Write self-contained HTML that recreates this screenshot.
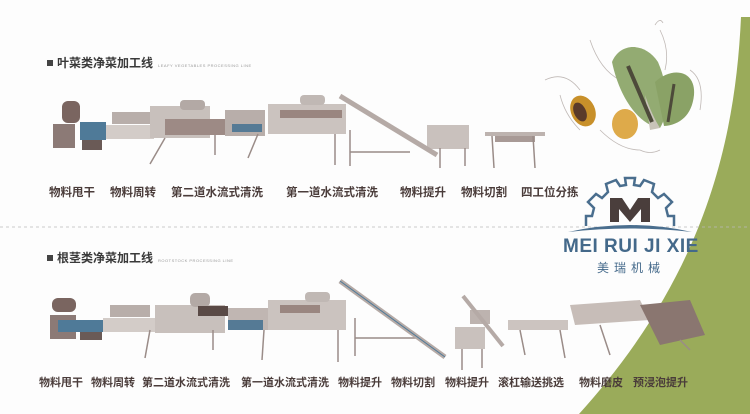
<!DOCTYPE html>
<html><head><meta charset="utf-8"><style>
*{margin:0;padding:0;box-sizing:border-box}
body{width:750px;height:414px;background:#fdfdfd;position:relative;overflow:hidden;font-family:"Liberation Sans","Noto Sans CJK SC",sans-serif}
.t{position:absolute;font-weight:bold;color:#4a3c3a;font-size:11px;white-space:nowrap}
.t1{font-size:11.5px}
.h{position:absolute;font-size:12px;font-weight:bold;color:#3a3a3a;white-space:nowrap}
.h:before{content:"";display:inline-block;width:6px;height:6px;background:#444;margin-right:4px;vertical-align:1px}
.sub{font-size:4px;color:#999;font-weight:normal;margin-left:5px;letter-spacing:0.5px}
</style></head><body>
<svg width="750" height="414" style="position:absolute;left:0;top:0">
<path d="M741 17 C735 150 700 280 579 414 L750 414 L750 17 Z" fill="#9aab5a"/>
<line x1="0" y1="227" x2="750" y2="227" stroke="#bbb" stroke-dasharray="3,3" stroke-width="0.8"/>
<!-- splash -->
<g fill="none" stroke="#b0a8a4" stroke-width="0.8" opacity="0.8">
<path d="M545 80 q20 -10 35 10 M590 40 q10 30 30 40 M660 30 q10 20 5 40 M690 70 q15 10 10 40 M600 130 q20 20 40 20 M560 95 q5 20 20 35 M640 150 q10 5 20 0 M655 25 q5 -8 8 -2"/>
</g>
<!-- vegetables -->
<path d="M612 62 C620 42 645 42 658 62 C670 90 668 115 660 128 C640 125 620 100 612 62Z" fill="#93ab72"/>
<path d="M655 82 C672 66 696 70 694 95 C692 115 680 125 664 126 Z" fill="#8aa266"/>
<path d="M645 95 C650 110 655 120 660 128 L650 130 Z" fill="#c8c3b8"/>
<path d="M628 66 L652 122" stroke="#4d4a3a" stroke-width="4"/>
<path d="M674 84 L668 122" stroke="#4d4a3a" stroke-width="3"/>
<ellipse cx="583" cy="111" rx="12" ry="16" transform="rotate(-25 583 111)" fill="#c8902a"/>
<ellipse cx="580" cy="112" rx="6" ry="10" transform="rotate(-25 580 112)" fill="#5a3a2a"/>
<ellipse cx="625" cy="124" rx="13" ry="15" fill="#deaa4a"/>
<!-- gear logo -->
<g transform="translate(630,222)" fill="none" stroke="#4a6e8e" stroke-width="2.5">
<path d="M-44 4 L-44 -6 L-38 -6 L-36 -14 L-42 -20 L-34 -28 L-28 -24 L-22 -30 L-24 -38 L-14 -42 L-10 -36 L-4 -37 L-5 -44 L5 -44 L4 -37 L10 -36 L14 -42 L24 -38 L22 -30 L28 -24 L34 -28 L42 -20 L36 -14 L38 -6 L44 -6 L44 4"/>
</g>
<g transform="translate(630,212)">
<path d="M-20 10 L-20 -14 L-8 -14 L0 -2 L8 -14 L20 -14 L20 10 L11 10 L11 -3 L0 10 L-11 -3 L-11 10Z" fill="#4a3e3c"/>
<path d="M-62 20 Q0 6 62 20 Q0 13 -62 20Z" fill="#4a6e8e"/>
</g>
<!-- machinery row 1 -->
<g>
<rect x="62" y="101" width="18" height="22" rx="6" fill="#7a6560"/>
<rect x="53" y="124" width="22" height="24" fill="#8c7a76"/>
<rect x="80" y="122" width="26" height="18" fill="#4f7a98"/>
<rect x="82" y="140" width="20" height="10" fill="#6a5a56"/>
<rect x="106" y="125" width="48" height="14" fill="#d3ccc8"/>
<rect x="112" y="112" width="40" height="12" fill="#b8aeaa"/>
<rect x="150" y="106" width="60" height="32" fill="#c8c0bc"/>
<rect x="165" y="119" width="60" height="16" fill="#9d8a85"/>
<rect x="180" y="100" width="25" height="10" rx="4" fill="#b3a9a5"/>
<rect x="225" y="110" width="40" height="26" fill="#b8aeaa"/>
<rect x="232" y="124" width="30" height="8" fill="#557a95"/>
<rect x="268" y="104" width="78" height="30" fill="#cbc3bf"/>
<rect x="280" y="110" width="62" height="8" fill="#9a8680"/>
<rect x="300" y="95" width="25" height="10" rx="4" fill="#c0b8b4"/>
<rect x="427" y="125" width="42" height="24" fill="#c9c1bd"/>
<rect x="485" y="132" width="60" height="4" fill="#bdb3af"/>
<rect x="495" y="136" width="40" height="6" fill="#a89a96"/>
<g stroke="#9a8c88" stroke-width="1.5">
<line x1="165" y1="138" x2="150" y2="164"/><line x1="215" y1="135" x2="215" y2="155"/><line x1="258" y1="134" x2="248" y2="158"/><line x1="335" y1="134" x2="335" y2="165"/><line x1="350" y1="130" x2="350" y2="166"/><line x1="440" y1="148" x2="440" y2="168"/><line x1="465" y1="148" x2="465" y2="166"/><line x1="492" y1="136" x2="494" y2="168"/><line x1="533" y1="136" x2="535" y2="168"/>
<line x1="350" y1="152" x2="410" y2="152"/>
</g>
<path d="M340 96 L437 155" stroke="#b5aaa6" stroke-width="5"/>
</g>
<!-- machinery row 2 -->
<g>
<rect x="52" y="298" width="24" height="14" rx="6" fill="#7a6560"/>
<rect x="50" y="315" width="26" height="24" fill="#8c7a76"/>
<rect x="58" y="320" width="45" height="12" fill="#4f7a98"/>
<rect x="80" y="332" width="22" height="8" fill="#6a5a56"/>
<rect x="103" y="318" width="60" height="14" fill="#d3ccc8"/>
<rect x="110" y="305" width="40" height="12" fill="#b8aeaa"/>
<rect x="155" y="305" width="70" height="28" fill="#c8c0bc"/>
<rect x="190" y="293" width="20" height="14" rx="5" fill="#b3a9a5"/>
<rect x="198" y="306" width="30" height="10" fill="#5a4a46"/>
<rect x="228" y="308" width="40" height="22" fill="#c0b6b2"/>
<rect x="228" y="320" width="35" height="10" fill="#557a95"/>
<rect x="268" y="300" width="78" height="30" fill="#cbc3bf"/>
<rect x="280" y="305" width="40" height="8" fill="#9a8680"/>
<rect x="305" y="292" width="25" height="10" rx="4" fill="#c0b8b4"/>
<rect x="455" y="327" width="30" height="22" fill="#c9c1bd"/>
<rect x="470" y="310" width="20" height="14" fill="#bdb3af"/>
<rect x="508" y="320" width="60" height="10" fill="#ccc4c0"/>
<path d="M570 305 L640 300 L650 320 L575 325Z" fill="#c7bdb8"/>
<path d="M640 305 L690 300 L705 335 L660 345Z" fill="#8a7670"/>
<g stroke="#9a8c88" stroke-width="1.5">
<line x1="150" y1="330" x2="145" y2="358"/><line x1="213" y1="330" x2="213" y2="350"/><line x1="264" y1="330" x2="262" y2="360"/><line x1="338" y1="330" x2="338" y2="362"/><line x1="355" y1="318" x2="355" y2="356"/><line x1="462" y1="349" x2="462" y2="370"/><line x1="482" y1="349" x2="482" y2="368"/><line x1="520" y1="330" x2="525" y2="355"/><line x1="560" y1="330" x2="565" y2="358"/><line x1="600" y1="325" x2="610" y2="355"/><line x1="680" y1="340" x2="690" y2="350"/>
<line x1="355" y1="338" x2="420" y2="338"/>
</g>
<path d="M340 281 L445 357" stroke="#b5aaa6" stroke-width="5"/>
<path d="M340 281 L445 357" stroke="#4f7a98" stroke-width="1"/>
<path d="M463 296 L503 346" stroke="#b5aaa6" stroke-width="4"/>
</g>
</svg>
<div class="h" style="left:47px;top:54px">叶菜类净菜加工线<span class="sub">LEAFY VEGETABLES PROCESSING LINE</span></div>
<div class="h" style="left:47px;top:249px">根茎类净菜加工线<span class="sub">ROOTSTOCK PROCESSING LINE</span></div>
<div class="t t1" style="left:49px;top:184px">物料甩干</div>
<div class="t t1" style="left:110px;top:184px">物料周转</div>
<div class="t t1" style="left:171px;top:184px">第二道水流式清洗</div>
<div class="t t1" style="left:286px;top:184px">第一道水流式清洗</div>
<div class="t t1" style="left:400px;top:184px">物料提升</div>
<div class="t t1" style="left:461px;top:184px">物料切割</div>
<div class="t t1" style="left:521px;top:184px">四工位分拣</div>
<div class="t" style="left:39px;top:374px">物料甩干</div>
<div class="t" style="left:91px;top:374px">物料周转</div>
<div class="t" style="left:142px;top:374px">第二道水流式清洗</div>
<div class="t" style="left:241px;top:374px">第一道水流式清洗</div>
<div class="t" style="left:338px;top:374px">物料提升</div>
<div class="t" style="left:391px;top:374px">物料切割</div>
<div class="t" style="left:445px;top:374px">物料提升</div>
<div class="t" style="left:498px;top:374px">滚杠输送挑选</div>
<div class="t" style="left:579px;top:374px">物料磨皮</div>
<div class="t" style="left:633px;top:374px">预浸泡提升</div>
<div style="position:absolute;left:563px;top:236px;font-size:19px;font-weight:bold;color:#44698a;white-space:nowrap;letter-spacing:0.5px">MEI RUI JI XIE</div>
<div style="position:absolute;left:597px;top:259px;font-size:12px;color:#44698a;letter-spacing:5px;white-space:nowrap">美瑞机械</div>
</body></html>
